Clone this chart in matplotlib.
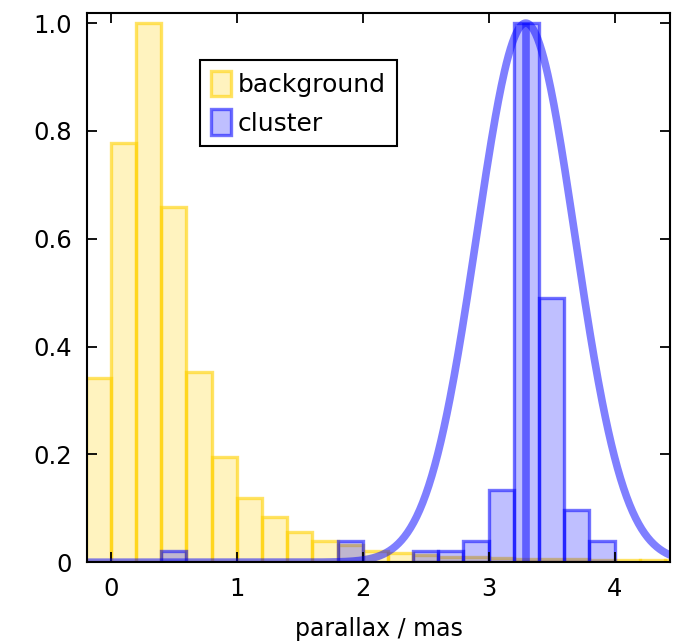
import numpy as np
import matplotlib
matplotlib.use("Agg")
import matplotlib.pyplot as plt

plt.rcParams["font.family"] = ["DejaVu Sans"]

# bin edges (parallax, mas), bin width 0.2
bin_left = [-0.2, 0.0, 0.2, 0.4, 0.6, 0.8, 1.0, 1.2, 1.4, 1.6, 1.8, 2.0,
            2.2, 2.4, 2.6, 2.8, 3.0, 3.2, 3.4, 3.6, 3.8, 4.0, 4.2, 4.4]
bin_width = 0.2

# normalised histogram heights
background = [0.341, 0.778, 1.0, 0.658, 0.353, 0.195, 0.119, 0.083, 0.056,
              0.040, 0.032, 0.020, 0.018, 0.013, 0.010, 0.010, 0.007, 0.006,
              0.006, 0.006, 0.005, 0.004, 0.004, 0.004]
cluster = [0.0, 0.0, 0.0, 0.020, 0.0, 0.0, 0.0, 0.0, 0.0,
           0.0, 0.040, 0.0, 0.0, 0.020, 0.020, 0.040, 0.134, 1.0,
           0.49, 0.096, 0.040, 0.0, 0.0, 0.0]

# gaussian fit of the cluster
fit_mean = 3.295
fit_sigma = 0.39
fit_amp = 1.0

fig = plt.figure(figsize=(6.85, 6.44), dpi=100)
ax = fig.add_axes([0.127, 0.127, 0.851, 0.853])

gold = (1.0, 0.82, 0.0)
blue = (0.0, 0.0, 1.0)

ax.bar(bin_left, background, width=bin_width, align="edge",
       facecolor=gold + (0.25,), edgecolor=gold + (0.6,), linewidth=2.4,
       label="background")
cl_x = [x for x, h in zip(bin_left, cluster) if h > 0]
cl_h = [h for h in cluster if h > 0]
ax.bar(cl_x, cl_h, width=bin_width, align="edge",
       facecolor=blue + (0.25,), edgecolor=blue + (0.55,), linewidth=2.4,
       label="cluster")

xs = np.linspace(-0.2, 4.6, 600)
ys = fit_amp * np.exp(-(xs - fit_mean) ** 2 / (2 * fit_sigma ** 2))
ax.plot(xs, ys, color=blue, alpha=0.5, lw=5.5, solid_capstyle="butt")
ax.plot([fit_mean, fit_mean], [0, fit_amp], color=blue, alpha=0.5, lw=5.5,
        solid_capstyle="butt")

ax.set_xlim(-0.19, 4.44)
ax.set_ylim(0, 1.019)
ax.set_xticks([0, 1, 2, 3, 4])
ax.set_xticklabels(["0", "1", "2", "3", "4"])
ax.set_yticks([0, 0.2, 0.4, 0.6, 0.8, 1.0])
ax.set_yticklabels(["0", "0.2", "0.4", "0.6", "0.8", "1.0"])
ax.tick_params(direction="in", length=7, width=1.3, labelsize=17.5,
               top=True, right=True)
ax.tick_params(axis="x", pad=11)
ax.tick_params(axis="y", pad=11)
for s in ax.spines.values():
    s.set_linewidth(1.5)
ax.set_xlabel("parallax / mas", fontsize=17, labelpad=11)

leg = ax.legend(loc="upper left", bbox_to_anchor=(0.194, 0.914),
                borderaxespad=0, fontsize=18, fancybox=False,
                edgecolor="black", framealpha=1, handlelength=0.8,
                handleheight=1.2, handletextpad=0.3, labelspacing=0.5,
                borderpad=0.42)
leg.get_frame().set_linewidth(1.5)

fig.savefig("out.png", dpi=100)
